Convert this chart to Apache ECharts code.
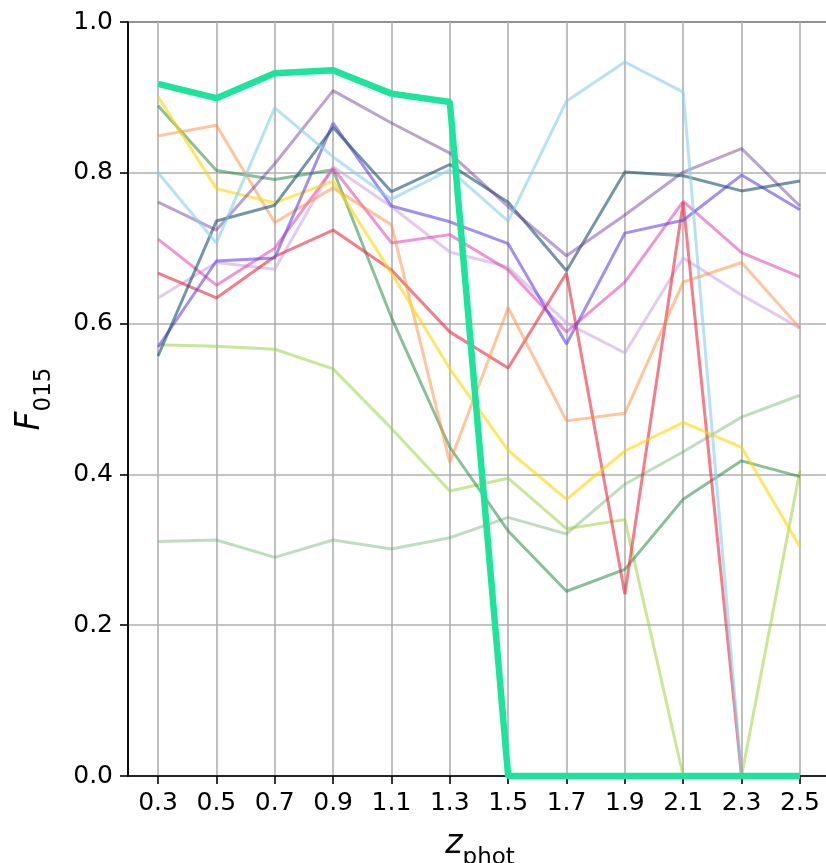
<!DOCTYPE html>
<html>
<head>
<meta charset="utf-8">
<script src="https://cdn.jsdelivr.net/npm/echarts@6/dist/echarts.min.js"></script>
<style>
  html, body { margin: 0; padding: 0; background: #fff; }
  #chart { width: 826px; height: 863px; }
</style>
</head>
<body>
<div id="chart"></div>
<script>
// Photometric redshift bins
const zphot = [0.3, 0.5, 0.7, 0.9, 1.1, 1.3, 1.5, 1.7, 1.9, 2.1, 2.3, 2.5];
const yTicks = [0, 0.2, 0.4, 0.6, 0.8, 1.0];

// F_015 per source, one array per curve
const fHighlight  = [0.918, 0.899, 0.932, 0.936, 0.905, 0.894, 0, 0, 0, 0, 0, 0];
const fSky        = [0.800, 0.707, 0.886, 0.821, 0.765, 0.804, 0.736, 0.895, 0.947, 0.907, 0, 0];
const fPurple     = [0.761, 0.724, 0.812, 0.909, 0.866, 0.826, 0.755, 0.690, 0.744, 0.801, 0.832, 0.756];
const fSlate      = [0.557, 0.736, 0.757, 0.860, 0.775, 0.811, 0.761, 0.670, 0.801, 0.796, 0.776, 0.789];
const fViolet     = [0.569, 0.683, 0.687, 0.866, 0.756, 0.735, 0.706, 0.573, 0.720, 0.737, 0.797, 0.751];
const fGold       = [0.901, 0.779, 0.760, 0.789, 0.667, 0.540, 0.432, 0.367, 0.431, 0.469, 0.436, 0.304];
const fOrange     = [0.849, 0.863, 0.734, 0.780, 0.731, 0.416, 0.621, 0.471, 0.481, 0.655, 0.681, 0.594];
const fRed        = [0.667, 0.634, 0.689, 0.724, 0.671, 0.589, 0.541, 0.667, 0.241, 0.761, 0, 0];
const fPink       = [0.712, 0.651, 0.700, 0.806, 0.707, 0.718, 0.671, 0.589, 0.655, 0.762, 0.694, 0.662];
const fLavender   = [0.634, 0.681, 0.672, 0.808, 0.755, 0.695, 0.675, 0.601, 0.561, 0.687, 0.638, 0.594];
const fGreen      = [0.889, 0.803, 0.791, 0.804, 0.608, 0.436, 0.325, 0.245, 0.274, 0.367, 0.418, 0.397];
const fLime       = [0.572, 0.570, 0.566, 0.540, 0.461, 0.378, 0.395, 0.328, 0.340, 0, 0, 0.405];
const fPaleGreen  = [0.311, 0.313, 0.290, 0.313, 0.301, 0.316, 0.343, 0.321, 0.387, 0.430, 0.476, 0.505];

const thinCurves = [
  { data: fPaleGreen, color: 'rgba(100,170,100,0.4)' },
  { data: fLime,      color: 'rgba(154,205,50,0.5)' },
  { data: fGreen,     color: 'rgba(40,140,70,0.55)' },
  { data: fLavender,  color: 'rgba(200,160,225,0.55)' },
  { data: fPink,      color: 'rgba(224,64,176,0.55)' },
  { data: fRed,       color: 'rgba(235,40,60,0.6)' },
  { data: fOrange,    color: 'rgba(255,140,60,0.5)' },
  { data: fGold,      color: 'rgba(255,215,0,0.6)' },
  { data: fViolet,    color: 'rgba(100,70,230,0.6)' },
  { data: fSlate,     color: 'rgba(25,80,110,0.6)' },
  { data: fPurple,    color: 'rgba(102,51,153,0.45)' },
  { data: fSky,       color: 'rgba(135,206,235,0.6)' }
];

const pairs = arr => arr.map((v, i) => [zphot[i], v]);

const series = thinCurves.map(c => ({
  type: 'line',
  data: pairs(c.data),
  symbol: 'none',
  clip: false,
  lineStyle: { color: c.color, width: 3 },
  emphasis: { disabled: true }
}));
series.push({
  type: 'line',
  data: pairs(fHighlight),
  symbol: 'none',
  clip: false,
  z: 5,
  lineStyle: { color: '#1de39b', width: 6.5 },
  emphasis: { disabled: true }
});

const FONT = 'DejaVu Sans';
const chart = echarts.init(document.getElementById('chart'), null, { renderer: 'canvas' });
chart.setOption({
  animation: false,
  backgroundColor: '#fff',
  textStyle: { fontFamily: FONT },
  grid: {
    left: 128, top: 22, width: 704, height: 754,
    show: true, borderColor: '#000', borderWidth: 1.6, backgroundColor: 'transparent',
    outerBoundsMode: 'none', containLabel: false
  },
  xAxis: {
    type: 'value',
    min: 0.197, max: 2.61,
    axisLine: { show: true, onZero: false, lineStyle: { color: '#000', width: 1.6 } },
    axisTick: { show: true, length: 8, lineStyle: { color: '#000', width: 1.6 }, customValues: zphot },
    axisLabel: {
      customValues: zphot, color: '#000', fontSize: 25, fontFamily: FONT, margin: 15,
      formatter: v => Number(v).toFixed(1)
    },
    splitLine: { show: true, lineStyle: { color: '#b0b0b0', width: 1.6 } },
    name: '{i|z}{s|phot}',
    nameLocation: 'middle',
    nameGap: 52,
    nameTextStyle: {
      rich: {
        i: { fontFamily: FONT, fontStyle: 'italic', fontSize: 33, color: '#000', verticalAlign: 'bottom', padding: [0, 0, 9, 0] },
        s: { fontFamily: FONT, fontSize: 23, color: '#000', verticalAlign: 'bottom' }
      }
    }
  },
  yAxis: {
    type: 'value',
    min: 0, max: 1, interval: 0.2,
    axisLine: { show: true, onZero: false, lineStyle: { color: '#000', width: 1.6 } },
    axisTick: { show: true, length: 8, lineStyle: { color: '#000', width: 1.6 } },
    axisLabel: {
      color: '#000', fontSize: 25, fontFamily: FONT, margin: 15,
      formatter: v => Number(v).toFixed(1)
    },
    splitLine: { show: true, lineStyle: { color: '#b0b0b0', width: 1.6 } },
    name: '{i|F}{s|015}',
    nameLocation: 'middle',
    nameRotate: 90,
    nameGap: 72,
    nameTextStyle: {
      rich: {
        i: { fontFamily: FONT, fontStyle: 'italic', fontSize: 33, color: '#000', verticalAlign: 'bottom', padding: [0, 0, 9, 0] },
        s: { fontFamily: FONT, fontSize: 23, color: '#000', verticalAlign: 'bottom' }
      }
    }
  },
  series: series
});
</script>
</body>
</html>
